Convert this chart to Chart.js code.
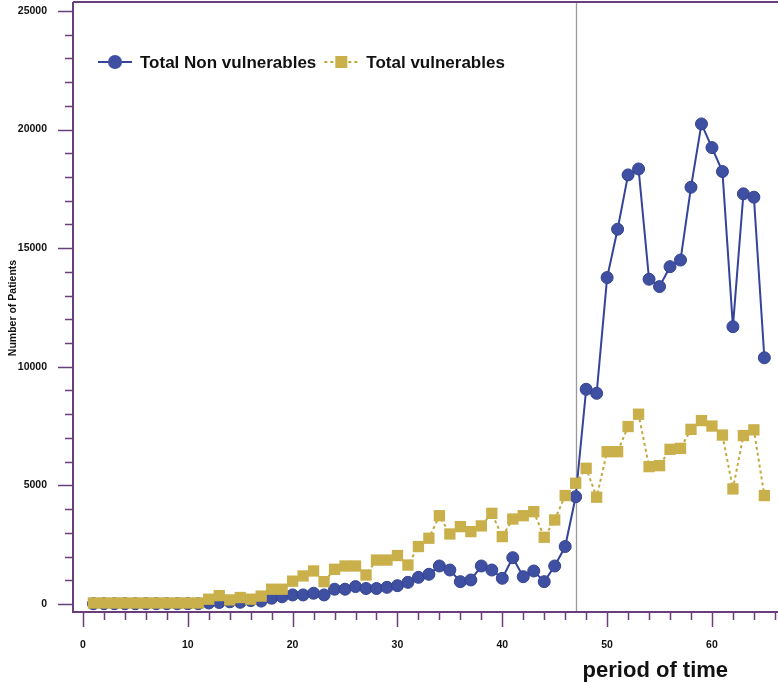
<!DOCTYPE html>
<html>
<head>
<meta charset="utf-8">
<script src="https://cdn.jsdelivr.net/npm/chart.js@4.4.1/dist/chart.umd.min.js"></script>
<style>
  html, body { margin: 0; padding: 0; background: #fff; }
  #wrap { width: 778px; height: 684px; }
</style>
</head>
<body>
<div id="wrap"><canvas id="patientsChart" width="778" height="684"></canvas></div>
<script>
// values
const periods = [1, 2, 3, 4, 5, 6, 7, 8, 9, 10, 11, 12, 13, 14, 15, 16, 17, 18, 19, 20,
  21, 22, 23, 24, 25, 26, 27, 28, 29, 30, 31, 32, 33, 34, 35, 36, 37, 38, 39, 40,
  41, 42, 43, 44, 45, 46, 47, 48, 49, 50, 51, 52, 53, 54, 55, 56, 57, 58, 59, 60,
  61, 62, 63, 64, 65];
const nonVulnerables = [10, 10, 10, 10, 10, 10, 10, 10, 10, 10, 10, 40, 60, 90, 70, 140, 120, 240, 300, 380,
  380, 450, 380, 620, 620, 730, 650, 650, 700, 770, 910, 1120, 1250, 1600, 1430, 940, 1010, 1600, 1430, 1080,
  1950, 1150, 1390, 940, 1600, 2420, 4520, 9050, 8880, 13760, 15800, 18090, 18340, 13690, 13380, 14220, 14500, 17570, 20240, 19240,
  18230, 11690, 17290, 17150, 10380];
const vulnerables = [40, 40, 40, 40, 40, 40, 40, 40, 40, 40, 40, 200, 350, 170, 270, 200, 330, 620, 620, 960,
  1180, 1390, 940, 1460, 1600, 1600, 1220, 1850, 1850, 2040, 1640, 2420, 2770, 3720, 2950, 3260, 3050, 3290, 3820, 2840,
  3580, 3720, 3890, 2810, 3540, 4570, 5090, 5720, 4500, 6420, 6420, 7480, 8000, 5790, 5830, 6520, 6560, 7360, 7730, 7500,
  7120, 4850, 7100, 7340, 4570];
const seriesLabels = ['Total Non vulnerables', 'Total vulnerables'];
const xTickValues = [0, 10, 20, 30, 40, 50, 60];
const yTickValues = [0, 5000, 10000, 15000, 20000, 25000];
const cutoffPeriod = 47;
const xTitle = 'period of time';
const yTitle = 'Number of Patients';

const AXIS = '#6a3e7b';
const BLUE = '#3f50a3';
const GOLD = '#c9b04b';
const FONT = "'Liberation Sans', Arial, sans-serif";

const toPoints = (vals) => periods.map((p, i) => ({ x: p, y: vals[i] }));

// keep the plot box fixed, whatever the tick labels need
function fixBox(s, size) {
  if (s.isHorizontal()) s.height = size; else s.width = size;
  s.paddingTop = 0; s.paddingBottom = 0; s.paddingLeft = 0; s.paddingRight = 0;
}

// axes, tick marks, cut-off line, legend and titles
const framePlugin = {
  id: 'frame',
  beforeDatasetsDraw(chart) {
    const { ctx, chartArea: a, scales: { x } } = chart;
    const px = Math.round(x.getPixelForValue(cutoffPeriod)) + 0.5;
    ctx.save();
    ctx.strokeStyle = '#9a9a9a';
    ctx.lineWidth = 1.3;
    ctx.beginPath();
    ctx.moveTo(px, a.top);
    ctx.lineTo(px, a.bottom);
    ctx.stroke();
    ctx.restore();
  },
  afterDraw(chart) {
    const { ctx, chartArea: a, scales: { x, y } } = chart;
    ctx.save();
    ctx.strokeStyle = AXIS;
    ctx.lineWidth = 2;
    ctx.beginPath();
    ctx.moveTo(a.left, a.top); ctx.lineTo(a.right, a.top);
    ctx.moveTo(a.left, a.top); ctx.lineTo(a.left, a.bottom);
    ctx.lineTo(a.right, a.bottom);
    ctx.stroke();

    ctx.lineWidth = 1.5;
    ctx.beginPath();
    for (let v = 0; v <= 25000; v += 1000) {
      const py = Math.round(y.getPixelForValue(v)) + 0.5;
      ctx.moveTo(a.left, py);
      ctx.lineTo(a.left - (v % 5000 === 0 ? 15 : 8), py);
    }
    for (let v = 0; v <= x.max; v += 2) {
      const px = Math.round(x.getPixelForValue(v)) + 0.5;
      ctx.moveTo(px, a.bottom);
      ctx.lineTo(px, a.bottom + (v % 10 === 0 ? 15 : 8));
    }
    ctx.stroke();

    // legend inside the plot
    let mx = 115;
    const ly = 62;
    ctx.font = 'bold 17px ' + FONT;
    ctx.textBaseline = 'middle';
    chart.data.datasets.forEach((ds) => {
      ctx.strokeStyle = ds.borderColor;
      ctx.lineWidth = 2;
      ctx.setLineDash(ds.borderDash || []);
      ctx.beginPath();
      ctx.moveTo(mx - 17, ly); ctx.lineTo(mx + 17, ly);
      ctx.stroke();
      ctx.setLineDash([]);
      ctx.fillStyle = ds.pointBackgroundColor;
      if (ds.pointStyle === 'rect') {
        ctx.fillRect(mx - 6, ly - 6, 12, 12);
      } else {
        ctx.beginPath();
        ctx.arc(mx, ly, 7, 0, Math.PI * 2);
        ctx.fill();
      }
      ctx.fillStyle = '#111';
      ctx.textAlign = 'left';
      ctx.fillText(ds.label, mx + 25, ly + 1);
      mx += 25 + ctx.measureText(ds.label).width + 25;
    });

    // axis titles
    ctx.fillStyle = '#111';
    ctx.font = 'bold 22px ' + FONT;
    ctx.textAlign = 'center';
    ctx.textBaseline = 'alphabetic';
    ctx.fillText(xTitle, x.getPixelForValue(54.6), 677);

    ctx.translate(13, 308);
    ctx.rotate(-Math.PI / 2);
    ctx.font = 'bold 10.5px ' + FONT;
    ctx.textBaseline = 'middle';
    ctx.fillText(yTitle, 0, 0);
    ctx.restore();
  }
};

const ctx = document.getElementById('patientsChart').getContext('2d');
window.patientsChart = new Chart(ctx, {
  type: 'line',
  data: {
    datasets: [
      {
        label: seriesLabels[0],
        data: toPoints(nonVulnerables),
        borderColor: '#34449a',
        borderWidth: 2,
        pointStyle: 'circle',
        pointRadius: 6,
        pointBackgroundColor: BLUE,
        pointBorderColor: '#33428f',
        pointBorderWidth: 1,
        order: 1
      },
      {
        label: seriesLabels[1],
        data: toPoints(vulnerables),
        borderColor: '#c2a83f',
        borderWidth: 2,
        borderDash: [3, 3],
        pointStyle: 'rect',
        pointRadius: 8,
        pointBackgroundColor: GOLD,
        pointBorderColor: GOLD,
        pointBorderWidth: 0,
        order: 0
      }
    ]
  },
  options: {
    responsive: false,
    animation: false,
    events: [],
    layout: { autoPadding: false, padding: { top: 2, right: 0, left: 0, bottom: 0 } },
    plugins: { legend: { display: false }, tooltip: { enabled: false } },
    scales: {
      x: {
        type: 'linear',
        min: -0.95,
        max: 66.3,
        grid: { display: false },
        border: { display: false },
        afterBuildTicks: (s) => { s.ticks = xTickValues.map(v => ({ value: v })); },
        afterFit: (s) => fixBox(s, 72),
        ticks: {
          padding: 19,
          maxRotation: 0,
          color: '#111',
          callback: (v) => String(v),
          font: { family: FONT, size: 10.5, weight: 'bold' }
        }
      },
      y: {
        min: -340,
        max: 25380,
        grid: { display: false },
        border: { display: false },
        afterBuildTicks: (s) => { s.ticks = yTickValues.map(v => ({ value: v })); },
        afterFit: (s) => fixBox(s, 73),
        ticks: {
          padding: 18,
          color: '#111',
          callback: (v) => String(v),
          font: { family: FONT, size: 10.5, weight: 'bold' }
        }
      }
    }
  },
  plugins: [framePlugin]
});
</script>
</body>
</html>
